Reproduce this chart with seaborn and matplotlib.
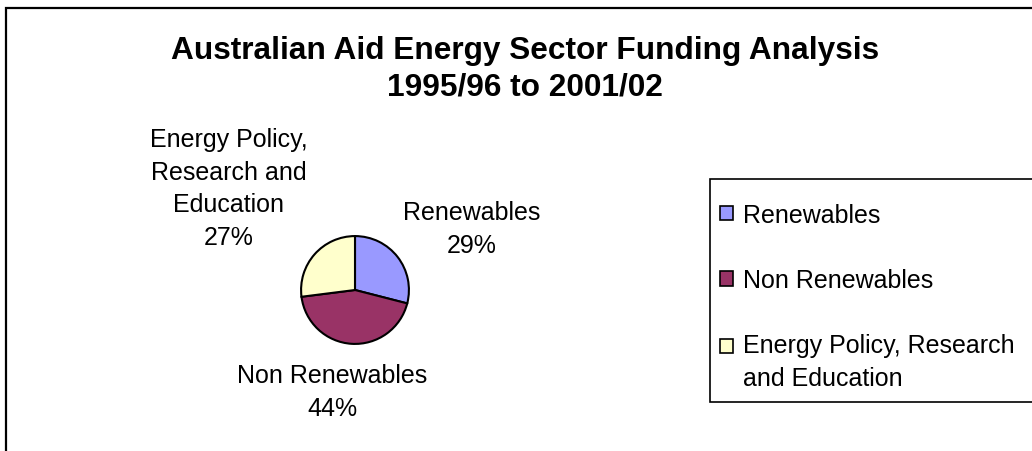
import matplotlib
matplotlib.use("Agg")
import matplotlib.pyplot as plt
from matplotlib.patches import Patch, Rectangle
from matplotlib.legend_handler import HandlerPatch
import seaborn as sns

# data
sectors = ["Renewables", "Non Renewables", "Energy Policy, Research and Education"]
shares = [29, 44, 27]
slice_labels = ["Renewables\n29%", "Non Renewables\n44%", "Energy Policy,\nResearch and\nEducation\n27%"]
legend_labels = ["Renewables", "Non Renewables", "Energy Policy, Research\nand Education"]
title_lines = ["Australian Aid Energy Sector Funding Analysis", "1995/96 to 2001/02"]

sns.set_style("white")
plt.rcParams['font.family'] = ['Liberation Sans', 'DejaVu Sans']
plt.rcParams['text.color'] = 'black'
colors = sns.color_palette(["#9999FF", "#993366", "#FFFFCC"])

W, H = 1032, 452
fig = plt.figure(figsize=(W / 100, H / 100), dpi=100)
fig.patch.set_facecolor('white')

# outer chart border (right and bottom run off the picture)
fig.patches.append(Rectangle((6 / W, -0.2), 1.2, (H - 9) / H + 0.2, transform=fig.transFigure,
                             fill=False, edgecolor='black', linewidth=1.6))

# pie axes: 110 px square centred at (355, 291)
ax = fig.add_axes([300 / W, (H - 346) / H, 110 / W, 110 / H])
wedges, _ = ax.pie(shares, colors=colors, startangle=90, counterclock=False,
                   wedgeprops=dict(edgecolor='black', linewidth=1.5))
ax.set_xlim(-1.02, 1.02)
ax.set_ylim(-1.02, 1.02)
ax.set_aspect('equal')
ax.axis('off')

# slice labels placed around the pie (in pie-radius units)
label_pos = [(2.17, 1.14), (-0.42, -1.88), (-2.34, 1.89)]
for txt, (x, y) in zip(slice_labels, label_pos):
    ax.text(x, y, txt, ha='center', va='center', fontsize=18, linespacing=1.45,
            clip_on=False)

# title
fig.text(525 / W, 1 - 59 / H, title_lines[0], ha='center', va='baseline',
         fontsize=22.8, fontweight='bold')
fig.text(525 / W, 1 - 96 / H, title_lines[1], ha='center', va='baseline',
         fontsize=22.8, fontweight='bold')


# the two-line legend entry keeps its marker level with the first line
def raised_box(legend, orig_handle, xdescent, ydescent, width, height, fontsize):
    return Rectangle((-xdescent, -ydescent + 11.5), width, height)


# legend box (runs off the right edge like the original)
fig.patches.append(Rectangle((710 / W, 1 - 403 / H), 0.4, 223 / H, transform=fig.transFigure,
                             facecolor='white', edgecolor='black', linewidth=1.2))
handles = [Patch(facecolor=c, edgecolor='black', linewidth=1.2) for c in colors]
leg = fig.legend(handles, legend_labels, loc='upper left',
                 bbox_to_anchor=(720 / W, 1 - 204 / H), fontsize=18,
                 frameon=False, handlelength=0.5, handleheight=0.5, handletextpad=0.42,
                 labelspacing=1.65, borderpad=0, borderaxespad=0,
                 handler_map={handles[2]: HandlerPatch(patch_func=raised_box)})
for t in leg.get_texts():
    t.set_linespacing(1.43)

fig.savefig("out.png", dpi=100)
